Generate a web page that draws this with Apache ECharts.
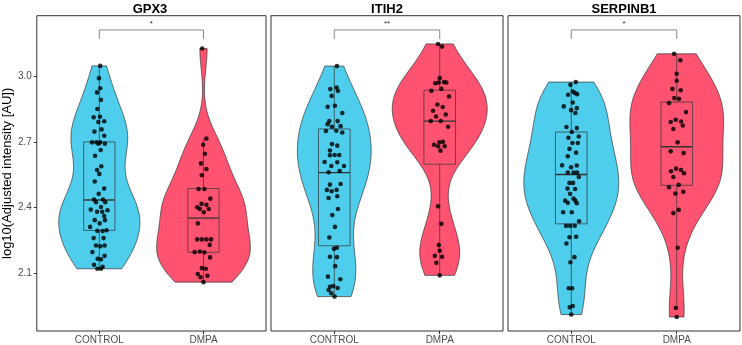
<!DOCTYPE html>
<html><head><meta charset="utf-8">
<script src="https://cdn.jsdelivr.net/npm/echarts@6/dist/echarts.min.js"></script>
<style>html,body{margin:0;padding:0;background:#fff}#c{width:742px;height:345px}</style>
</head><body><div id="c"></div>
<script>
const panels = ['GPX3', 'ITIH2', 'SERPINB1'];
const categories = ['CONTROL', 'DMPA'];
const signif = ['*', '**', '*'];
const yTicks = [2.1, 2.4, 2.7, 3.0];

// points: y value and horizontal jitter (in category units)
const gpx3ControlY = [3.047,2.991,2.945,2.926,2.892,2.850,2.812,2.815,2.794,2.791,2.757,2.747,2.728,2.698,2.698,2.692,2.698,2.692,2.663,2.637,2.589,2.572,2.554,2.519,2.487,2.463,2.437,2.437,2.425,2.425,2.391,2.381,2.403,2.381,2.388,2.362,2.343,2.328,2.343,2.312,2.294,2.293,2.297,2.261,2.261,2.227,2.224,2.227,2.197,2.180,2.167,2.164,2.139,2.130,2.121,2.121];
const gpx3ControlDx = [0.009,-0.003,0.009,-0.022,0.016,-0.019,-0.054,0.006,0.047,-0.009,0.022,-0.047,0.047,-0.070,-0.028,-0.009,0.009,0.054,0.013,-0.041,0.019,-0.022,0.000,-0.044,0.047,-0.006,-0.051,0.035,0.057,-0.032,-0.082,-0.022,0.016,0.028,0.079,0.047,-0.044,0.003,0.054,-0.088,-0.019,0.032,0.070,-0.054,0.041,-0.032,0.009,0.051,-0.066,0.051,-0.016,0.016,-0.051,0.032,-0.019,0.016];
const gpx3DmpaY = [3.126,2.715,2.687,2.646,2.602,2.576,2.548,2.485,2.485,2.441,2.417,2.402,2.413,2.394,2.394,2.379,2.328,2.255,2.255,2.255,2.255,2.230,2.197,2.200,2.196,2.173,2.124,2.121,2.097,2.089,2.082,2.060];
const gpx3DmpaDx = [-0.013,0.028,-0.003,0.013,-0.025,0.028,-0.016,-0.047,0.009,0.066,-0.019,-0.060,0.028,-0.035,0.051,0.003,-0.054,-0.060,-0.016,0.028,0.073,0.060,-0.085,-0.035,0.009,0.063,-0.016,0.022,-0.054,0.038,-0.028,0.000];

const itih2ControlY = [3.046,2.941,2.948,2.933,2.910,2.860,2.865,2.832,2.795,2.795,2.781,2.769,2.772,2.750,2.751,2.743,2.690,2.683,2.661,2.640,2.639,2.640,2.608,2.607,2.590,2.590,2.567,2.561,2.505,2.508,2.481,2.475,2.481,2.444,2.452,2.394,2.366,2.312,2.264,2.217,2.212,2.176,2.174,2.133,2.085,2.073,2.039,2.042,2.033,2.024,2.009,1.994];
const itih2ControlDx = [0.025,-0.038,0.022,0.035,-0.025,-0.063,0.006,0.076,-0.047,0.032,-0.063,-0.022,0.060,-0.079,0.019,0.076,-0.022,0.028,-0.041,0.003,-0.041,0.047,-0.092,0.028,-0.028,0.092,0.051,-0.054,-0.041,0.060,-0.070,-0.025,0.022,-0.054,0.028,0.035,-0.019,0.006,-0.047,0.025,-0.003,-0.041,0.025,0.009,-0.060,0.057,-0.041,-0.009,0.032,-0.054,-0.028,0.003];
const itih2DmpaY = [3.147,3.135,2.991,2.973,2.971,2.971,2.968,2.942,2.933,2.907,2.871,2.859,2.842,2.825,2.816,2.795,2.795,2.769,2.698,2.700,2.687,2.680,2.680,2.660,2.406,2.326,2.229,2.203,2.180,2.176,2.148,2.091];
const itih2DmpaDx = [-0.016,0.022,0.000,0.041,-0.009,0.063,-0.041,0.016,-0.079,0.088,-0.022,0.028,-0.063,0.057,-0.035,-0.085,0.009,0.079,-0.003,0.031,-0.054,-0.016,0.047,0.007,-0.016,0.016,-0.009,0.000,-0.047,0.022,-0.032,0.000];

const serpinb1ControlY = [2.973,2.961,2.930,2.924,2.918,2.915,2.880,2.862,2.854,2.845,2.832,2.768,2.763,2.745,2.725,2.719,2.695,2.695,2.668,2.651,2.634,2.593,2.592,2.584,2.560,2.560,2.560,2.540,2.513,2.513,2.487,2.485,2.463,2.441,2.432,2.422,2.432,2.420,2.379,2.379,2.338,2.317,2.317,2.317,2.265,2.267,2.236,2.174,2.151,2.032,2.032,1.951,1.945,1.912];
const serpinb1ControlDx = [0.043,-0.008,0.014,0.033,0.055,-0.030,0.014,-0.071,0.052,-0.002,0.039,-0.046,0.052,0.005,0.071,-0.027,0.011,0.062,-0.017,0.046,-0.033,-0.087,0.052,-0.002,-0.033,0.021,0.055,0.071,-0.017,0.017,-0.036,0.036,-0.011,0.021,-0.058,-0.033,0.039,0.052,-0.077,0.005,0.074,-0.049,-0.011,0.033,-0.017,0.046,-0.046,0.030,-0.008,-0.024,0.008,0.014,-0.014,0.000];
const serpinb1DmpaY = [3.102,3.073,3.011,2.979,2.942,2.936,2.900,2.897,2.877,2.836,2.801,2.793,2.791,2.775,2.759,2.698,2.657,2.649,2.578,2.572,2.566,2.557,2.540,2.504,2.493,2.472,2.464,2.390,2.375,2.217,1.942,1.901];
const serpinb1DmpaDx = [-0.025,0.035,0.000,0.000,-0.041,0.038,-0.023,0.022,-0.073,0.088,-0.010,0.041,-0.057,0.057,-0.032,0.009,-0.057,0.066,-0.006,0.041,-0.054,0.069,-0.032,0.019,-0.073,0.063,-0.013,0.019,-0.032,0.009,-0.009,0.000];

// box stats: [lower whisker, Q1, median, Q3, upper whisker]
const gpx3Box = [[2.121,2.296,2.435,2.700,3.047],[2.060,2.196,2.352,2.487,2.715]];
const itih2Box = [[1.994,2.226,2.560,2.759,3.046],[2.091,2.598,2.795,2.936,3.147]];
const serpinb1Box = [[1.912,2.326,2.551,2.745,2.973],[1.942,2.502,2.678,2.882,3.102]];

// significance bracket: [tick bottom, bracket top, label]
const bracketY = [3.170, 3.211, 3.240];

const panelData = [
  {pts: [[gpx3ControlY, gpx3ControlDx], [gpx3DmpaY, gpx3DmpaDx]], box: gpx3Box},
  {pts: [[itih2ControlY, itih2ControlDx], [itih2DmpaY, itih2DmpaDx]], box: itih2Box},
  {pts: [[serpinb1ControlY, serpinb1ControlDx], [serpinb1DmpaY, serpinb1DmpaDx]], box: serpinb1Box}
];

const fills = ['#4ECDEC', '#FF5371'];
const FONT = 'Liberation Sans, Arial, Helvetica, sans-serif';
const Y_MIN = 1.837, Y_MAX = 3.276;
const gridLefts = [34, 271, 508];
const GRID_W = 232, GRID_TOP = 15.7, GRID_H = 316;

// --- kernel density (gaussian, bw.nrd0), trimmed to data range ---
function q7(s, p) { const h = (s.length - 1) * p, lo = Math.floor(h); const hi = Math.min(lo + 1, s.length - 1); return s[lo] + (h - lo) * (s[hi] - s[lo]); }
function bwNrd0(a) {
  const n = a.length, m = a.reduce((x, y) => x + y, 0) / n;
  const sd = Math.sqrt(a.reduce((x, y) => x + (y - m) * (y - m), 0) / (n - 1));
  const s = a.slice().sort((x, y) => x - y);
  const iqr = q7(s, 0.75) - q7(s, 0.25);
  return 0.9 * Math.min(sd, iqr / 1.34) * Math.pow(n, -0.2);
}
function profile(a) {
  const bw = bwNrd0(a), n = a.length;
  const lo = Math.min(...a), hi = Math.max(...a), N = 160, out = [];
  for (let i = 0; i <= N; i++) {
    const y = lo + (hi - lo) * i / N;
    let d = 0;
    for (const v of a) { const z = (y - v) / bw; d += Math.exp(-0.5 * z * z); }
    out.push([y, d / (n * bw * Math.sqrt(2 * Math.PI))]);
  }
  return out;
}
const violinProfiles = panelData.map(p => {
  const profs = p.pts.map(g => profile(g[0]));
  const maxD = Math.max(...profs.map(pr => Math.max(...pr.map(r => r[1]))));
  return profs.map(pr => pr.map(r => [r[0], r[1] / maxD * 0.45]));
});

const grids = [], xAxes = [], yAxes = [], series = [], graphics = [];
panels.forEach((name, pi) => {
  grids.push({left: gridLefts[pi], top: GRID_TOP, width: GRID_W, height: GRID_H, show: true, borderColor: '#333', borderWidth: 1, backgroundColor: 'transparent', containLabel: false});
  xAxes.push({gridIndex: pi, type: 'value', min: 0.4, max: 2.6,
    splitLine: {show: false}, axisLine: {show: false},
    axisTick: {show: true, customValues: [1, 2], length: 3, lineStyle: {color: '#333', width: 1}},
    axisLabel: {customValues: [1, 2], formatter: v => categories[Math.round(v) - 1], fontSize: 10, color: '#4d4d4d', margin: 4, fontFamily: FONT}});
  yAxes.push({gridIndex: pi, type: 'value', min: Y_MIN, max: Y_MAX,
    splitLine: {show: false}, axisLine: {show: false},
    axisTick: {show: pi === 0, customValues: yTicks, length: 3, lineStyle: {color: '#333', width: 1}},
    axisLabel: {show: pi === 0, customValues: yTicks, formatter: v => v.toFixed(1), fontSize: 10, color: '#4d4d4d', margin: 5, fontFamily: FONT},
    name: pi === 0 ? 'log10(Adjusted intensity [AU])' : '', nameLocation: 'middle', nameRotate: 90, nameGap: 19,
    nameTextStyle: {fontSize: 13, color: '#000', fontFamily: FONT}});

  // violins
  series.push({type: 'custom', xAxisIndex: pi, yAxisIndex: pi, silent: true, z: 1,
    data: [[1, 2.5], [2, 2.5]],
    renderItem: (params, api) => {
      const gi = params.dataIndex, cx = api.value(0), prof = violinProfiles[pi][gi];
      const right = prof.map(r => api.coord([cx + r[1], r[0]]));
      const left = prof.slice().reverse().map(r => api.coord([cx - r[1], r[0]]));
      return {type: 'polygon', shape: {points: right.concat(left)}, style: {fill: fills[gi], stroke: '#333', lineWidth: 0.7}};
    }});

  // boxplots
  series.push({type: 'custom', xAxisIndex: pi, yAxisIndex: pi, silent: true, z: 2,
    data: panelData[pi].box.map((b, gi) => [gi + 1].concat(b)),
    renderItem: (params, api) => {
      const cx = api.value(0), lw = api.value(1), q1 = api.value(2), md = api.value(3), q3 = api.value(4), uw = api.value(5);
      const hw = 0.15;
      const p1 = api.coord([cx - hw, q3]), p2 = api.coord([cx + hw, q1]);
      const c = (x, y) => api.coord([x, y]);
      const st = {stroke: '#333', lineWidth: 0.7, fill: null};
      return {type: 'group', children: [
        {type: 'rect', shape: {x: p1[0], y: p1[1], width: p2[0] - p1[0], height: p2[1] - p1[1]}, style: {fill: 'none', stroke: '#333', lineWidth: 0.7}},
        {type: 'line', shape: {x1: c(cx, q3)[0], y1: c(cx, q3)[1], x2: c(cx, uw)[0], y2: c(cx, uw)[1]}, style: st},
        {type: 'line', shape: {x1: c(cx, q1)[0], y1: c(cx, q1)[1], x2: c(cx, lw)[0], y2: c(cx, lw)[1]}, style: st},
        {type: 'line', shape: {x1: c(cx - hw, md)[0], y1: c(cx - hw, md)[1], x2: c(cx + hw, md)[0], y2: c(cx + hw, md)[1]}, style: {stroke: '#333', lineWidth: 1.4}}
      ]};
    }});

  // jittered points
  const pts = [];
  panelData[pi].pts.forEach((g, gi) => g[0].forEach((y, k) => pts.push([gi + 1 + g[1][k], y])));
  series.push({type: 'scatter', xAxisIndex: pi, yAxisIndex: pi, silent: true, z: 3, data: pts,
    symbol: 'circle', symbolSize: 4.6, itemStyle: {color: '#000'}});

  // significance bracket
  series.push({type: 'custom', xAxisIndex: pi, yAxisIndex: pi, silent: true, z: 4,
    data: [[1, 2, bracketY[0], bracketY[1], bracketY[2]]],
    renderItem: (params, api) => {
      const a = api.coord([api.value(0), api.value(2)]), b = api.coord([api.value(0), api.value(3)]);
      const c = api.coord([api.value(1), api.value(3)]), d = api.coord([api.value(1), api.value(2)]);
      const t = api.coord([(api.value(0) + api.value(1)) / 2, api.value(4)]);
      return {type: 'group', children: [
        {type: 'polyline', shape: {points: [a, b, c, d]}, style: {stroke: '#555', lineWidth: 0.7, fill: null}},
        {type: 'text', x: t[0], y: t[1], style: {text: signif[pi], align: 'center', verticalAlign: 'middle', fontSize: 8, fill: '#333', fontFamily: FONT}}
      ]};
    }});

  graphics.push({type: 'text', x: gridLefts[pi] + GRID_W / 2, y: 9, style: {text: name, align: 'center', verticalAlign: 'middle', fontSize: 13, fontWeight: 'bold', fill: '#000', fontFamily: FONT}});
});

const chart = echarts.init(document.getElementById('c'), null, {renderer: 'canvas'});
chart.setOption({animation: false, grid: grids, xAxis: xAxes, yAxis: yAxes, series: series, graphic: graphics});
</script></body></html>
